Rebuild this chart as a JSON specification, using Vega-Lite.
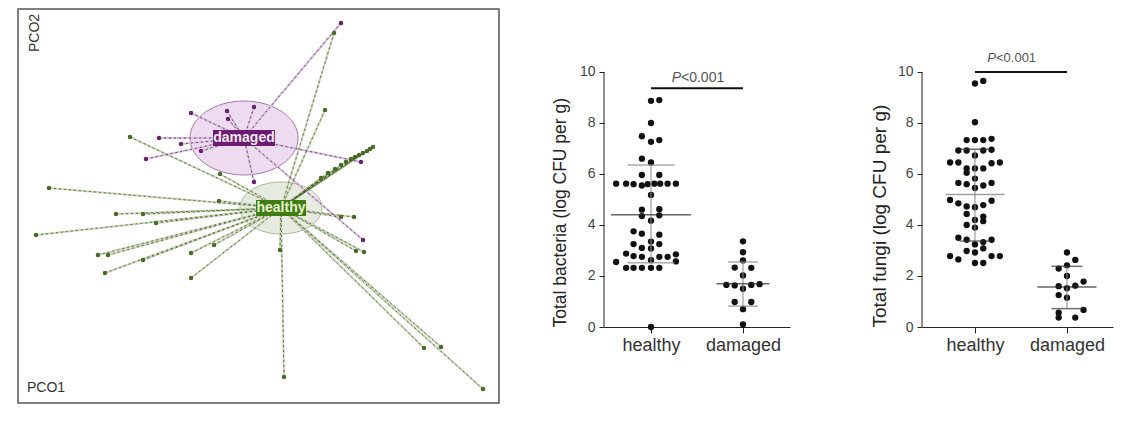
{
  "$schema": "https://vega.github.io/schema/vega-lite/v6.json",
  "padding": {"left": 17, "top": 8, "right": 5, "bottom": 5},
  "background": "white",
  "config": {"font": "Liberation Sans", "view": {"stroke": null}},
  "datasets": {
    "pcoa": [
      {"group": "healthy", "pco1": 0.1325, "pco2": 0.4375},
      {"group": "healthy", "pco1": 0.11, "pco2": 0.245},
      {"group": "healthy", "pco1": -0.3775, "pco2": 0.1775},
      {"group": "healthy", "pco1": -0.1525, "pco2": 0.085},
      {"group": "healthy", "pco1": -0.58, "pco2": 0.05},
      {"group": "healthy", "pco1": -0.155, "pco2": 0.0175},
      {"group": "healthy", "pco1": -0.4125, "pco2": -0.015},
      {"group": "healthy", "pco1": -0.345, "pco2": -0.015},
      {"group": "healthy", "pco1": -0.3125, "pco2": -0.0375},
      {"group": "healthy", "pco1": -0.6125, "pco2": -0.0675},
      {"group": "healthy", "pco1": -0.4575, "pco2": -0.1175},
      {"group": "healthy", "pco1": -0.4325, "pco2": -0.1175},
      {"group": "healthy", "pco1": -0.345, "pco2": -0.13},
      {"group": "healthy", "pco1": -0.225, "pco2": -0.1125},
      {"group": "healthy", "pco1": -0.1675, "pco2": -0.0925},
      {"group": "healthy", "pco1": -0.44, "pco2": -0.1625},
      {"group": "healthy", "pco1": -0.225, "pco2": -0.175},
      {"group": "healthy", "pco1": -0.0025, "pco2": -0.105},
      {"group": "healthy", "pco1": 0.0075, "pco2": -0.4225},
      {"group": "healthy", "pco1": 0.15, "pco2": -0.0225},
      {"group": "healthy", "pco1": 0.1825, "pco2": -0.0225},
      {"group": "healthy", "pco1": 0.1875, "pco2": -0.1075},
      {"group": "healthy", "pco1": 0.2075, "pco2": -0.11},
      {"group": "healthy", "pco1": 0.3575, "pco2": -0.35},
      {"group": "healthy", "pco1": 0.4, "pco2": -0.3475},
      {"group": "healthy", "pco1": 0.505, "pco2": -0.4525},
      {"group": "healthy", "pco1": 0.23, "pco2": 0.1525},
      {"group": "healthy", "pco1": 0.2225, "pco2": 0.1475},
      {"group": "healthy", "pco1": 0.215, "pco2": 0.1425},
      {"group": "healthy", "pco1": 0.205, "pco2": 0.1375},
      {"group": "healthy", "pco1": 0.195, "pco2": 0.1325},
      {"group": "healthy", "pco1": 0.185, "pco2": 0.1275},
      {"group": "healthy", "pco1": 0.175, "pco2": 0.1225},
      {"group": "healthy", "pco1": 0.1625, "pco2": 0.115},
      {"group": "healthy", "pco1": 0.15, "pco2": 0.1075},
      {"group": "healthy", "pco1": 0.135, "pco2": 0.0975},
      {"group": "healthy", "pco1": 0.1175, "pco2": 0.0875},
      {"group": "healthy", "pco1": 0.1, "pco2": 0.075},
      {"group": "damaged", "pco1": 0.15, "pco2": 0.4625},
      {"group": "damaged", "pco1": -0.225, "pco2": 0.2375},
      {"group": "damaged", "pco1": -0.135, "pco2": 0.2425},
      {"group": "damaged", "pco1": -0.0675, "pco2": 0.2525},
      {"group": "damaged", "pco1": -0.1325, "pco2": 0.2225},
      {"group": "damaged", "pco1": -0.305, "pco2": 0.175},
      {"group": "damaged", "pco1": -0.25, "pco2": 0.16},
      {"group": "damaged", "pco1": -0.2, "pco2": 0.1425},
      {"group": "damaged", "pco1": -0.3375, "pco2": 0.1225},
      {"group": "damaged", "pco1": 0.2, "pco2": 0.115},
      {"group": "damaged", "pco1": 0.205, "pco2": -0.08},
      {"group": "damaged", "pco1": -0.0675, "pco2": 0.065}
    ],
    "centroids": [
      {"group": "healthy", "cx": 0, "cy": 0},
      {"group": "damaged", "cx": -0.0925, "cy": 0.175}
    ],
    "axisLabels": [
      {"label": "PCO2", "pco1": -0.615, "pco2": 0.4375},
      {"label": "PCO1", "pco1": -0.5875, "pco2": -0.451}
    ],
    "bact": [
      {"group": "healthy", "value": 0.0, "slot": 0},
      {"group": "healthy", "value": 2.32, "slot": -3},
      {"group": "healthy", "value": 2.32, "slot": -2.1},
      {"group": "healthy", "value": 2.32, "slot": -1.1},
      {"group": "healthy", "value": 2.32, "slot": 0},
      {"group": "healthy", "value": 2.32, "slot": 1},
      {"group": "healthy", "value": 2.55, "slot": -4.2},
      {"group": "healthy", "value": 2.57, "slot": 3},
      {"group": "healthy", "value": 2.62, "slot": 0},
      {"group": "healthy", "value": 2.88, "slot": -3},
      {"group": "healthy", "value": 2.78, "slot": -2.1},
      {"group": "healthy", "value": 2.75, "slot": -1.1},
      {"group": "healthy", "value": 2.75, "slot": 1},
      {"group": "healthy", "value": 2.75, "slot": 2},
      {"group": "healthy", "value": 2.85, "slot": 3},
      {"group": "healthy", "value": 3.1, "slot": -1.1},
      {"group": "healthy", "value": 3.08, "slot": 0},
      {"group": "healthy", "value": 3.25, "slot": -2.1},
      {"group": "healthy", "value": 3.25, "slot": 1},
      {"group": "healthy", "value": 3.35, "slot": 0},
      {"group": "healthy", "value": 3.75, "slot": -2.1},
      {"group": "healthy", "value": 3.66, "slot": -1.1},
      {"group": "healthy", "value": 3.62, "slot": 1},
      {"group": "healthy", "value": 4.17, "slot": 0},
      {"group": "healthy", "value": 4.35, "slot": -1.1},
      {"group": "healthy", "value": 4.38, "slot": 1},
      {"group": "healthy", "value": 4.6, "slot": -1.1},
      {"group": "healthy", "value": 4.62, "slot": 1},
      {"group": "healthy", "value": 5.18, "slot": 0},
      {"group": "healthy", "value": 5.62, "slot": -4.2},
      {"group": "healthy", "value": 5.62, "slot": -3},
      {"group": "healthy", "value": 5.6, "slot": -2.1},
      {"group": "healthy", "value": 5.55, "slot": -1.1},
      {"group": "healthy", "value": 5.6, "slot": -0.4},
      {"group": "healthy", "value": 5.62, "slot": 0.4},
      {"group": "healthy", "value": 5.62, "slot": 1.1},
      {"group": "healthy", "value": 5.62, "slot": 2},
      {"group": "healthy", "value": 5.62, "slot": 3},
      {"group": "healthy", "value": 5.96, "slot": -1.1},
      {"group": "healthy", "value": 5.96, "slot": 1},
      {"group": "healthy", "value": 6.45, "slot": 0},
      {"group": "healthy", "value": 6.6, "slot": -1.1},
      {"group": "healthy", "value": 7.26, "slot": 0},
      {"group": "healthy", "value": 7.33, "slot": 1},
      {"group": "healthy", "value": 7.48, "slot": -1.1},
      {"group": "healthy", "value": 8.0, "slot": 0},
      {"group": "healthy", "value": 8.87, "slot": 0},
      {"group": "healthy", "value": 8.9, "slot": 1},
      {"group": "damaged", "value": 3.36, "slot": 0},
      {"group": "damaged", "value": 2.93, "slot": 0},
      {"group": "damaged", "value": 2.61, "slot": 0},
      {"group": "damaged", "value": 2.33, "slot": -1},
      {"group": "damaged", "value": 2.32, "slot": 1},
      {"group": "damaged", "value": 2.02, "slot": 0},
      {"group": "damaged", "value": 1.65, "slot": -2},
      {"group": "damaged", "value": 1.63, "slot": -1},
      {"group": "damaged", "value": 1.65, "slot": 1},
      {"group": "damaged", "value": 1.68, "slot": 2},
      {"group": "damaged", "value": 1.5, "slot": 0},
      {"group": "damaged", "value": 0.98, "slot": -1},
      {"group": "damaged", "value": 0.98, "slot": 1},
      {"group": "damaged", "value": 0.7, "slot": 0},
      {"group": "damaged", "value": 0.1, "slot": 0}
    ],
    "fungi": [
      {"group": "healthy", "value": 9.55, "slot": 0},
      {"group": "healthy", "value": 9.65, "slot": 1},
      {"group": "healthy", "value": 8.03, "slot": 0},
      {"group": "healthy", "value": 7.33, "slot": -1},
      {"group": "healthy", "value": 7.33, "slot": 0},
      {"group": "healthy", "value": 7.33, "slot": 1},
      {"group": "healthy", "value": 7.38, "slot": 2},
      {"group": "healthy", "value": 6.92, "slot": -2},
      {"group": "healthy", "value": 6.92, "slot": -1},
      {"group": "healthy", "value": 6.92, "slot": 1},
      {"group": "healthy", "value": 6.95, "slot": 2},
      {"group": "healthy", "value": 6.73, "slot": 0},
      {"group": "healthy", "value": 6.45, "slot": -3},
      {"group": "healthy", "value": 6.45, "slot": -2},
      {"group": "healthy", "value": 6.42, "slot": 2},
      {"group": "healthy", "value": 6.45, "slot": 3},
      {"group": "healthy", "value": 6.22, "slot": -1},
      {"group": "healthy", "value": 6.22, "slot": 0},
      {"group": "healthy", "value": 6.22, "slot": 1},
      {"group": "healthy", "value": 6.05, "slot": -1},
      {"group": "healthy", "value": 5.82, "slot": 0},
      {"group": "healthy", "value": 5.65, "slot": -2},
      {"group": "healthy", "value": 5.6, "slot": -1},
      {"group": "healthy", "value": 5.55, "slot": 1},
      {"group": "healthy", "value": 5.65, "slot": 2},
      {"group": "healthy", "value": 5.45, "slot": 0},
      {"group": "healthy", "value": 4.98, "slot": -3},
      {"group": "healthy", "value": 4.85, "slot": -2},
      {"group": "healthy", "value": 4.95, "slot": 2},
      {"group": "healthy", "value": 4.78, "slot": 1},
      {"group": "healthy", "value": 4.73, "slot": -1},
      {"group": "healthy", "value": 4.7, "slot": 0},
      {"group": "healthy", "value": 4.43, "slot": -1},
      {"group": "healthy", "value": 4.33, "slot": 1},
      {"group": "healthy", "value": 4.2, "slot": 0},
      {"group": "healthy", "value": 4.15, "slot": 1},
      {"group": "healthy", "value": 4.0, "slot": -1},
      {"group": "healthy", "value": 3.9, "slot": 0},
      {"group": "healthy", "value": 3.5, "slot": -2},
      {"group": "healthy", "value": 3.42, "slot": -1},
      {"group": "healthy", "value": 3.33, "slot": 1},
      {"group": "healthy", "value": 3.42, "slot": 2},
      {"group": "healthy", "value": 3.24, "slot": 0},
      {"group": "healthy", "value": 3.08, "slot": 1},
      {"group": "healthy", "value": 2.98, "slot": -1},
      {"group": "healthy", "value": 2.92, "slot": 0},
      {"group": "healthy", "value": 2.78, "slot": -3},
      {"group": "healthy", "value": 2.65, "slot": -2},
      {"group": "healthy", "value": 2.78, "slot": 2},
      {"group": "healthy", "value": 2.78, "slot": 3},
      {"group": "healthy", "value": 2.51, "slot": 0},
      {"group": "healthy", "value": 2.51, "slot": 1},
      {"group": "damaged", "value": 2.92, "slot": 0},
      {"group": "damaged", "value": 2.63, "slot": 1},
      {"group": "damaged", "value": 2.29, "slot": -1},
      {"group": "damaged", "value": 2.42, "slot": 0},
      {"group": "damaged", "value": 2.0, "slot": 0},
      {"group": "damaged", "value": 1.6, "slot": -1},
      {"group": "damaged", "value": 1.78, "slot": 2},
      {"group": "damaged", "value": 1.62, "slot": 1},
      {"group": "damaged", "value": 1.52, "slot": 0},
      {"group": "damaged", "value": 1.25, "slot": -1},
      {"group": "damaged", "value": 1.15, "slot": 0},
      {"group": "damaged", "value": 0.56, "slot": -1},
      {"group": "damaged", "value": 0.67, "slot": 2},
      {"group": "damaged", "value": 0.37, "slot": -1},
      {"group": "damaged", "value": 0.37, "slot": 1}
    ],
    "bactStats": [
      {"group": "healthy", "mean": 4.4, "lo": 2.52, "hi": 6.35},
      {"group": "damaged", "mean": 1.7, "lo": 0.82, "hi": 2.55}
    ],
    "fungiStats": [
      {"group": "healthy", "mean": 5.2, "lo": 3.37, "hi": 6.97},
      {"group": "damaged", "mean": 1.57, "lo": 0.72, "hi": 2.38}
    ]
  },
  "spacing": 51,
  "hconcat": [
    {
      "width": 481,
      "height": 394,
      "view": {"stroke": "#555", "strokeWidth": 1.5},
      "layer": [
        {
          "data": {"name": "centroids"},
          "mark": {"type": "point", "filled": true, "strokeWidth": 1, "opacity": 1},
          "encoding": {
            "x": {"field": "cx", "type": "quantitative", "scale": {"domain": [-0.6575, 0.545], "nice": false, "zero": false}, "axis": null},
            "y": {"field": "cy", "type": "quantitative", "scale": {"domain": [-0.4875, 0.4975], "nice": false, "zero": false}, "axis": null},
            "shape": {"condition": {"test": "datum.group === 'healthy'", "value": "M-1,0C-1,-0.35,-0.552,-0.634,0,-0.634C0.552,-0.634,1,-0.35,1,0C1,0.35,0.552,0.634,0,0.634C-0.552,0.634,-1,0.35,-1,0Z"}, "value": "M-1,0C-1,-0.378,-0.552,-0.685,0,-0.685C0.552,-0.685,1,-0.378,1,0C1,0.378,0.552,0.685,0,0.685C-0.552,0.685,-1,0.378,-1,0Z"},
            "size": {"condition": {"test": "datum.group === 'healthy'", "value": 6724}, "value": 11664},
            "fill": {"condition": {"test": "datum.group === 'healthy'", "value": "#e7ebdf"}, "value": "#eddcef"},
            "stroke": {"condition": {"test": "datum.group === 'healthy'", "value": "#aab79a"}, "value": "#a47aa8"}
          }
        },
        {
          "data": {"name": "pcoa"},
          "transform": [{"lookup": "group", "from": {"data": {"name": "centroids"}, "key": "group", "fields": ["cx", "cy"]}}],
          "mark": {"type": "rule", "strokeWidth": 2},
          "encoding": {
            "x": {"field": "pco1", "type": "quantitative", "axis": null},
            "y": {"field": "pco2", "type": "quantitative", "axis": null},
            "x2": {"field": "cx"},
            "y2": {"field": "cy"},
            "color": {"condition": {"test": "datum.group === 'healthy'", "value": "#cbd3bd"}, "value": "#d5c0d7"}
          }
        },
        {
          "data": {"name": "pcoa"},
          "transform": [{"lookup": "group", "from": {"data": {"name": "centroids"}, "key": "group", "fields": ["cx", "cy"]}}],
          "mark": {"type": "rule", "strokeWidth": 1, "strokeDash": [2, 3], "opacity": 0.85},
          "encoding": {
            "x": {"field": "pco1", "type": "quantitative", "axis": null},
            "y": {"field": "pco2", "type": "quantitative", "axis": null},
            "x2": {"field": "cx"},
            "y2": {"field": "cy"},
            "color": {"condition": {"test": "datum.group === 'healthy'", "value": "#3f6420"}, "value": "#62246a"}
          }
        },
        {
          "data": {"name": "pcoa"},
          "mark": {"type": "circle", "size": 20, "opacity": 1},
          "encoding": {
            "x": {"field": "pco1", "type": "quantitative", "axis": null},
            "y": {"field": "pco2", "type": "quantitative", "axis": null},
            "color": {"condition": {"test": "datum.group === 'healthy'", "value": "#4a6a28"}, "value": "#6a2270"}
          }
        },
        {
          "data": {"name": "centroids"},
          "mark": {"type": "point", "filled": true, "opacity": 1, "strokeWidth": 0},
          "encoding": {
            "x": {"field": "cx", "type": "quantitative", "axis": null},
            "y": {"field": "cy", "type": "quantitative", "axis": null},
            "shape": {"condition": {"test": "datum.group === 'healthy'", "value": "M-1,-0.32L1,-0.32L1,0.32L-1,0.32Z"}, "value": "M-1,-0.258L1,-0.258L1,0.258L-1,0.258Z"},
            "size": {"condition": {"test": "datum.group === 'healthy'", "value": 2500}, "value": 3844},
            "fill": {"condition": {"test": "datum.group === 'healthy'", "value": "#3f7d12"}, "value": "#6c1c70"}
          }
        },
        {
          "data": {"name": "centroids"},
          "mark": {"type": "text", "fontSize": 14, "fontWeight": "bold", "align": "center", "baseline": "middle", "font": "Liberation Sans"},
          "encoding": {
            "x": {"field": "cx", "type": "quantitative", "axis": null},
            "y": {"field": "cy", "type": "quantitative", "axis": null},
            "text": {"field": "group"},
            "color": {"condition": {"test": "datum.group === 'healthy'", "value": "#e4efcf"}, "value": "#f4e8f4"}
          }
        },
        {
          "data": {"name": "axisLabels"},
          "transform": [{"filter": "datum.label === 'PCO2'"}],
          "mark": {"type": "text", "fontSize": 14, "angle": 270, "align": "center", "baseline": "middle", "color": "#333"},
          "encoding": {
            "x": {"field": "pco1", "type": "quantitative", "axis": null},
            "y": {"field": "pco2", "type": "quantitative", "axis": null},
            "text": {"field": "label"}
          }
        },
        {
          "data": {"name": "axisLabels"},
          "transform": [{"filter": "datum.label === 'PCO1'"}],
          "mark": {"type": "text", "fontSize": 14, "align": "center", "baseline": "middle", "color": "#333"},
          "encoding": {
            "x": {"field": "pco1", "type": "quantitative", "axis": null},
            "y": {"field": "pco2", "type": "quantitative", "axis": null},
            "text": {"field": "label"}
          }
        }
      ]
    },
    {
      "spacing": 80,
      "hconcat": [
        {
          "width": 186,
          "height": 318,
          "resolve": {"scale": {"x": "independent"}},
          "layer": [
            {
              "layer": [
                {
                  "data": {"name": "bact"},
                  "mark": {"type": "circle", "size": 40, "color": "#111", "opacity": 1},
                  "encoding": {
                    "x": {"field": "group", "type": "nominal", "scale": {"type": "point", "domain": ["healthy", "damaged"], "padding": 0.511, "align": 0.5},
                      "axis": {"title": null, "labelAngle": 0, "labelFontSize": 18, "labelColor": "#333", "labelPadding": 3, "tickSize": 6, "tickColor": "#222", "domainColor": "#222", "labelFont": "Liberation Sans"}},
                    "xOffset": {"field": "slot", "type": "quantitative", "scale": {"domain": [-5, 5], "range": [-41.5, 41.5]}},
                    "y": {"field": "value", "type": "quantitative", "scale": {"domain": [0, 12.47], "nice": false, "zero": false},
                      "axis": {"values": [0, 2, 4, 6, 8, 10], "domain": false, "grid": false, "tickSize": 5, "tickColor": "#222", "labelFontSize": 14, "labelColor": "#444", "labelPadding": 4, "title": "Total bacteria (log CFU per g)", "titleFontSize": 17.5, "titleFontWeight": "normal", "titleColor": "#222", "titlePadding": 10, "titleAnchor": "start"}}
                  }
                },
                {
                  "data": {"name": "bactStats"},
                  "mark": {"type": "rule", "color": "#888", "strokeWidth": 1},
                  "encoding": {
                    "x": {"field": "group", "type": "nominal"},
                    "y": {"field": "lo", "type": "quantitative"},
                    "y2": {"field": "hi"}
                  }
                },
                {
                  "data": {"name": "bactStats"},
                  "mark": {"type": "tick", "color": "#888", "thickness": 1.5},
                  "encoding": {
                    "x": {"field": "group", "type": "nominal"},
                    "y": {"field": "lo", "type": "quantitative"},
                    "size": {"condition": {"test": "datum.group === 'healthy'", "value": 47}, "value": 30}
                  }
                },
                {
                  "data": {"name": "bactStats"},
                  "mark": {"type": "tick", "color": "#888", "thickness": 1.5},
                  "encoding": {
                    "x": {"field": "group", "type": "nominal"},
                    "y": {"field": "hi", "type": "quantitative"},
                    "size": {"condition": {"test": "datum.group === 'healthy'", "value": 47}, "value": 30}
                  }
                },
                {
                  "data": {"name": "bactStats"},
                  "mark": {"type": "tick", "color": "#222", "thickness": 1.5},
                  "encoding": {
                    "x": {"field": "group", "type": "nominal"},
                    "y": {"field": "mean", "type": "quantitative"},
                    "size": {"condition": {"test": "datum.group === 'healthy'", "value": 80}, "value": 53}
                  }
                },
                {
                  "data": {"values": [{"comparison": "healthy vs damaged"}]},
                  "mark": {"type": "rule", "color": "#111", "strokeWidth": 2},
                  "encoding": {
                    "x": {"datum": "healthy", "type": "nominal"},
                    "x2": {"datum": "damaged"},
                    "y": {"datum": 9.36, "type": "quantitative"}
                  }
                },
                {
                  "data": {"values": [{"p": "P"}]},
                  "mark": {"type": "text", "fontSize": 14, "fontStyle": "italic", "align": "right", "baseline": "middle", "color": "#555", "dx": 30},
                  "encoding": {
                    "x": {"datum": "healthy", "type": "nominal"},
                    "y": {"datum": 9.75, "type": "quantitative"},
                    "text": {"field": "p"}
                  }
                },
                {
                  "data": {"values": [{"p": "<0.001"}]},
                  "mark": {"type": "text", "fontSize": 14, "align": "left", "baseline": "middle", "color": "#555", "dx": 30},
                  "encoding": {
                    "x": {"datum": "healthy", "type": "nominal"},
                    "y": {"datum": 9.75, "type": "quantitative"},
                    "text": {"field": "p"}
                  }
                }
              ]
            },
            {
              "data": {"values": [{"axis": "y"}]},
              "mark": {"type": "rule", "color": "#222", "strokeWidth": 1},
              "encoding": {
                "x": {"datum": 0, "type": "quantitative", "scale": {"domain": [0, 1]}, "axis": null},
                "y": {"datum": 0, "type": "quantitative"},
                "y2": {"datum": 10}
              }
            }
          ]
        },
        {
          "width": 191,
          "height": 318,
          "resolve": {"scale": {"x": "independent"}},
          "layer": [
            {
              "layer": [
                {
                  "data": {"name": "fungi"},
                  "mark": {"type": "circle", "size": 40, "color": "#111", "opacity": 1},
                  "encoding": {
                    "x": {"field": "group", "type": "nominal", "scale": {"type": "point", "domain": ["healthy", "damaged"], "padding": 0.538, "align": 0.535},
                      "axis": {"title": null, "labelAngle": 0, "labelFontSize": 18, "labelColor": "#333", "labelPadding": 3, "tickSize": 6, "tickColor": "#222", "domainColor": "#222", "labelFont": "Liberation Sans"}},
                    "xOffset": {"field": "slot", "type": "quantitative", "scale": {"domain": [-5, 5], "range": [-41.5, 41.5]}},
                    "y": {"field": "value", "type": "quantitative", "scale": {"domain": [0, 12.47], "nice": false, "zero": false},
                      "axis": {"values": [0, 2, 4, 6, 8, 10], "domain": false, "grid": false, "tickSize": 5, "tickColor": "#222", "labelFontSize": 14, "labelColor": "#444", "labelPadding": 4, "title": "Total fungi (log CFU per g)", "titleFontSize": 19, "titleFontWeight": "normal", "titleColor": "#222", "titlePadding": 8, "titleAnchor": "start"}}
                  }
                },
                {
                  "data": {"name": "fungiStats"},
                  "mark": {"type": "rule", "color": "#888", "strokeWidth": 1},
                  "encoding": {
                    "x": {"field": "group", "type": "nominal"},
                    "y": {"field": "lo", "type": "quantitative"},
                    "y2": {"field": "hi"}
                  }
                },
                {
                  "data": {"name": "fungiStats"},
                  "mark": {"type": "tick", "color": "#333", "thickness": 1.5},
                  "encoding": {
                    "x": {"field": "group", "type": "nominal"},
                    "y": {"field": "lo", "type": "quantitative"},
                    "size": {"value": 31}
                  }
                },
                {
                  "data": {"name": "fungiStats"},
                  "mark": {"type": "tick", "color": "#333", "thickness": 1.5},
                  "encoding": {
                    "x": {"field": "group", "type": "nominal"},
                    "y": {"field": "hi", "type": "quantitative"},
                    "size": {"value": 31}
                  }
                },
                {
                  "data": {"name": "fungiStats"},
                  "mark": {"type": "tick", "thickness": 1.5},
                  "encoding": {
                    "x": {"field": "group", "type": "nominal"},
                    "y": {"field": "mean", "type": "quantitative"},
                    "size": {"value": 59},
                    "color": {"condition": {"test": "datum.group === 'healthy'", "value": "#777"}, "value": "#222"}
                  }
                },
                {
                  "data": {"values": [{"comparison": "healthy vs damaged"}]},
                  "mark": {"type": "rule", "color": "#111", "strokeWidth": 2},
                  "encoding": {
                    "x": {"datum": "healthy", "type": "nominal"},
                    "x2": {"datum": "damaged"},
                    "y": {"datum": 10.0, "type": "quantitative"}
                  }
                },
                {
                  "data": {"values": [{"p": "P"}]},
                  "mark": {"type": "text", "fontSize": 13, "fontStyle": "italic", "align": "right", "baseline": "middle", "color": "#555", "dx": 21},
                  "encoding": {
                    "x": {"datum": "healthy", "type": "nominal"},
                    "y": {"datum": 10.53, "type": "quantitative"},
                    "text": {"field": "p"}
                  }
                },
                {
                  "data": {"values": [{"p": "<0.001"}]},
                  "mark": {"type": "text", "fontSize": 13, "align": "left", "baseline": "middle", "color": "#555", "dx": 21},
                  "encoding": {
                    "x": {"datum": "healthy", "type": "nominal"},
                    "y": {"datum": 10.53, "type": "quantitative"},
                    "text": {"field": "p"}
                  }
                }
              ]
            },
            {
              "data": {"values": [{"axis": "y"}]},
              "mark": {"type": "rule", "color": "#222", "strokeWidth": 1},
              "encoding": {
                "x": {"datum": 0, "type": "quantitative", "scale": {"domain": [0, 1]}, "axis": null},
                "y": {"datum": 0, "type": "quantitative"},
                "y2": {"datum": 10}
              }
            }
          ]
        }
      ]
    }
  ]
}
